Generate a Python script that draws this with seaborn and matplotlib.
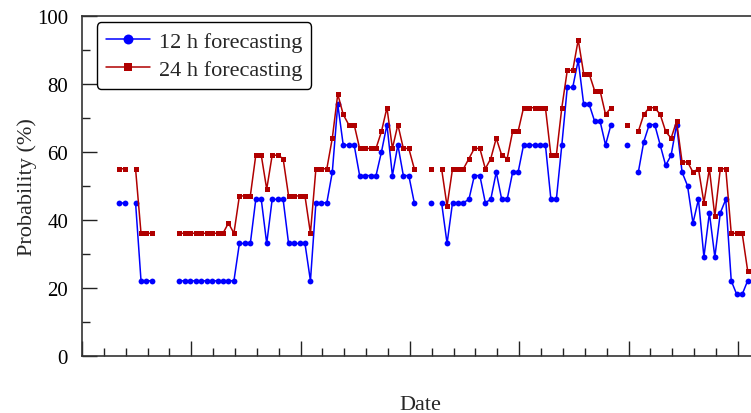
import numpy as np
import pandas as pd
import matplotlib
matplotlib.use("Agg")
import matplotlib.pyplot as plt
import seaborn as sns
from matplotlib.ticker import MultipleLocator, NullFormatter

nan = np.nan
# probability values every 6 h (NaN = no forecast)
p12 = [45, 45, nan, 45, 22, 22, 22, nan, nan, nan, nan,
       22, 22, 22, 22, 22, 22, 22, 22, 22, 22, 22,
       33, 33, 33, 46, 46, 33, 46, 46, 46, 33, 33, 33, 33, 22,
       45, 45, 45, 54, 74, 62, 62, 62, 53, 53, 53, 53, 60, 68, 53, 62, 53, 53, 45,
       nan, nan, 45, nan, 45, 33, 45, 45, 45, 46, 53, 53, 45, 46, 54, 46, 46, 54, 54,
       62, 62, 62, 62, 62, 46, 46, 62, 79, 79, 87, 74, 74, 69, 69, 62, 68,
       nan, nan, 62, nan, 54, 63, 68, 68, 62, 56, 59, 68, 54, 50, 39, 46, 29, 42, 29, 42, 46,
       22, 18, 18, 22]
p24 = [55, 55, nan, 55, 36, 36, 36, nan, nan, nan, nan,
       36, 36, 36, 36, 36, 36, 36, 36, 36, 39, 36,
       47, 47, 47, 59, 59, 49, 59, 59, 58, 47, 47, 47, 47, 36,
       55, 55, 55, 64, 77, 71, 68, 68, 61, 61, 61, 61, 66, 73, 61, 68, 61, 61, 55,
       nan, nan, 55, nan, 55, 44, 55, 55, 55, 58, 61, 61, 55, 58, 64, 59, 58, 66, 66,
       73, 73, 73, 73, 73, 59, 59, 73, 84, 84, 93, 83, 83, 78, 78, 71, 73,
       nan, nan, 68, nan, 66, 71, 73, 73, 71, 66, 64, 69, 57, 57, 54, 55, 45, 55, 41, 55, 55,
       36, 36, 36, 25]
labels = ["12 h forecasting", "24 h forecasting"]
colors = ["#0000ff", "#b00000"]

day = 1.7 + 0.25 * np.arange(len(p12))

frames = []
for lab, vals in zip(labels, [p12, p24]):
    d = pd.DataFrame({"day": day, "prob": vals, "series": lab})
    d["seg"] = d["prob"].isna().cumsum()
    frames.append(d.dropna())
df = pd.concat(frames, ignore_index=True)

sns.set_style("ticks")
plt.rcParams["font.family"] = ["Liberation Serif", "DejaVu Serif"]

fig = plt.figure(figsize=(7.51, 4.14), dpi=100)
ax = fig.add_axes([82 / 751, 1 - 356.5 / 414, 676 / 751, 339.5 / 414])

sns.lineplot(data=df, x="day", y="prob", hue="series", style="series",
             units="seg", estimator=None, markers={labels[0]: "o", labels[1]: "s"},
             dashes=False, palette=dict(zip(labels, colors)), markersize=4.2,
             markeredgewidth=0, linewidth=1.1, ax=ax)

for ln in ax.lines:
    ln.set_markeredgewidth(0)
    if ln.get_marker() == "s":
        ln.set_markersize(3.6)
        ln.set_snap(False)

ax.set_xlim(0, 676 / 21.86)
ax.set_ylim(0, 100)
ax.xaxis.set_major_locator(MultipleLocator(5))
ax.xaxis.set_minor_locator(MultipleLocator(1))
ax.xaxis.set_major_formatter(NullFormatter())
ax.yaxis.set_major_locator(MultipleLocator(20))
ax.yaxis.set_minor_locator(MultipleLocator(10))
ax.tick_params(which="both", direction="in", colors="#222222", labelcolor="black",
               labelsize=15, width=1, pad=10)
ax.tick_params(which="major", length=11)
ax.tick_params(which="minor", length=5.5)
for s in ax.spines.values():
    s.set_color("#333333")
    s.set_linewidth(1.2)

ax.set_xlabel("Date", fontsize=16, va="top")
ax.xaxis.set_label_coords(0.5, -0.115)
ax.set_ylabel("Probability (%)", fontsize=16, labelpad=0)

leg = ax.legend(loc="upper left", bbox_to_anchor=(15 / 676, 0.982), borderaxespad=0,
                fontsize=16, markerscale=1.7, handlelength=2.0, handletextpad=0.4,
                labelspacing=0.35, borderpad=0.4, frameon=True, fancybox=True)
leg.get_frame().set_edgecolor("black")
leg.get_frame().set_linewidth(1)
leg.get_frame().set_alpha(1)

fig.savefig("out.png", dpi=100)
